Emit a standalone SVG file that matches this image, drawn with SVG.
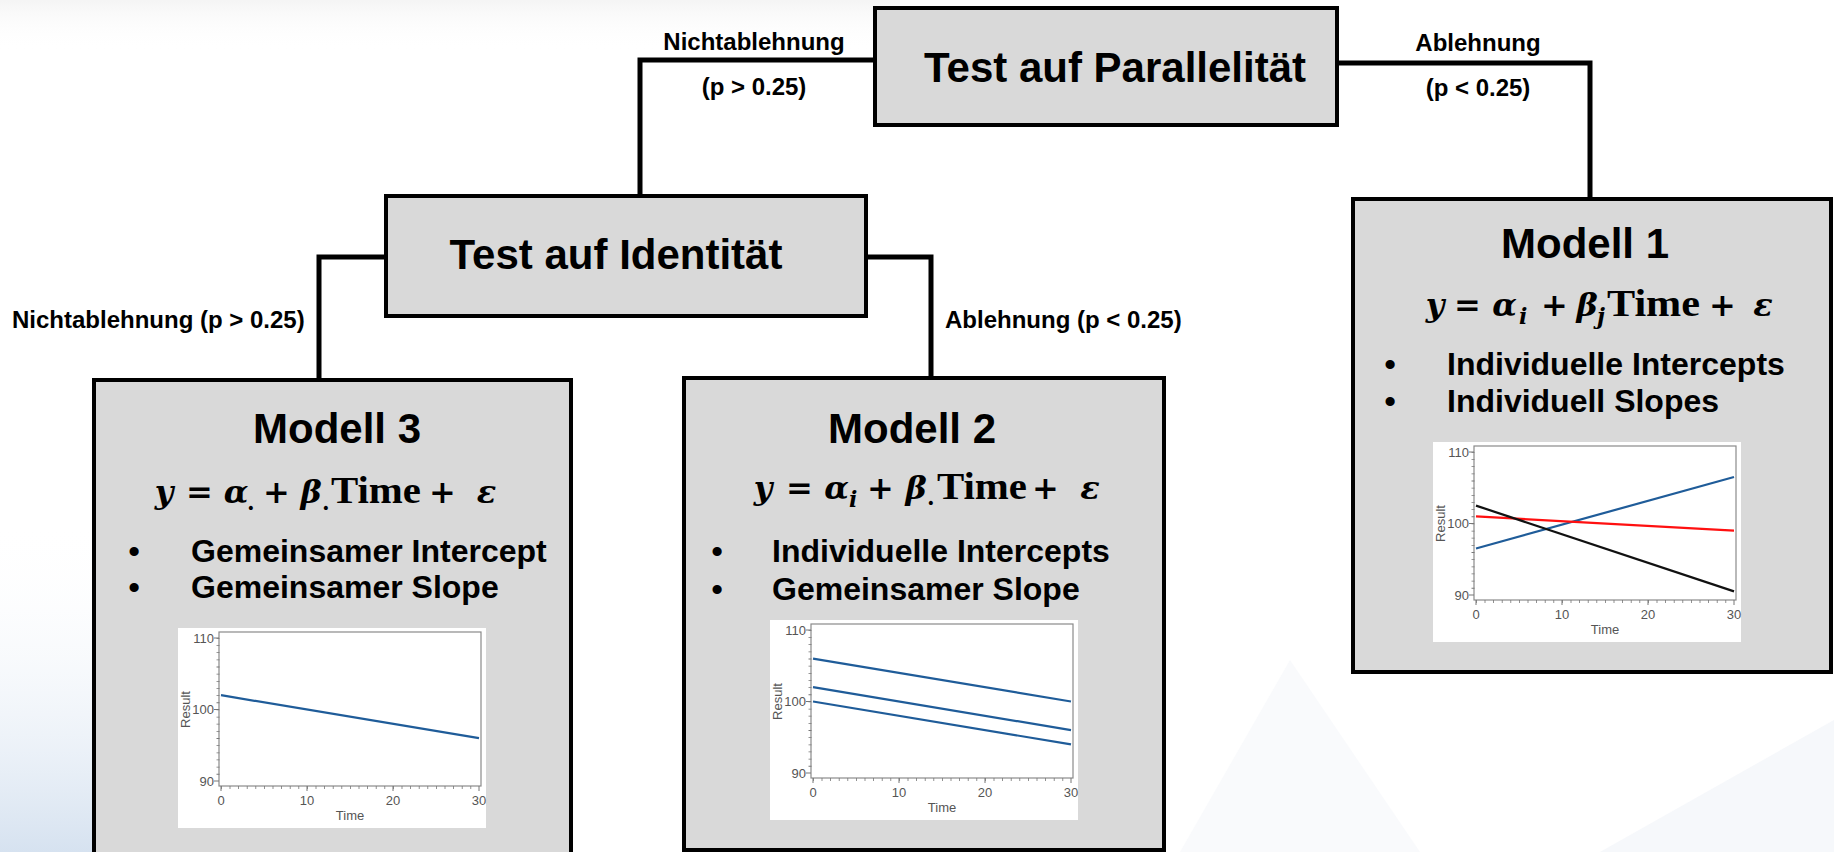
<svg xmlns="http://www.w3.org/2000/svg" xmlns:xlink="http://www.w3.org/1999/xlink" width="1834" height="852" viewBox="0 0 1834 852">
<style>
.box{fill:#d9d9d9;stroke:#000;stroke-width:4}
.conn{fill:none;stroke:#000;stroke-width:5;stroke-linejoin:miter}
.head{font-family:"Liberation Sans",Arial,sans-serif;font-weight:bold;font-size:42px;fill:#000}
.lbl{font-family:"Liberation Sans",Arial,sans-serif;font-weight:bold;font-size:24px;fill:#000}
.bul{font-family:"Liberation Sans",Arial,sans-serif;font-weight:bold;font-size:32px;fill:#000}
.m{font-family:"DejaVu Serif","Liberation Serif",serif;font-weight:bold;font-size:32px;fill:#000}
.tm{font-family:"Liberation Serif","Times New Roman",serif;font-size:37px}
.mi{font-style:italic}
.sub{font-size:22px}
.ax{font-family:"Liberation Sans",Arial,sans-serif;font-size:13px;fill:#555}
.frame{fill:none;stroke:#8a8a8a;stroke-width:1.2}
.tick{fill:none;stroke:#777;stroke-width:1}
.blue{fill:none;stroke:#1f5c99;stroke-width:2.2}
.red{fill:none;stroke:#ff1010;stroke-width:2.2}
.blk{fill:none;stroke:#111;stroke-width:2.2}
</style>
<defs>
<linearGradient id="bgl" x1="0" y1="0" x2="0" y2="1">
<stop offset="0" stop-color="#ffffff" stop-opacity="0"/>
<stop offset="1" stop-color="#d6e2f0"/>
</linearGradient>
<linearGradient id="bgt" x1="0" y1="0" x2="0" y2="1">
<stop offset="0" stop-color="#eeeeee"/>
<stop offset="1" stop-color="#ffffff" stop-opacity="0"/>
</linearGradient>
<g id="chartBase">
<rect x="0" y="0" width="308" height="200" fill="#fff"/>
<rect class="frame" x="41" y="4" width="262" height="154"/>
<path class="tick" d="M36,10h5M36,81.5h5M36,153h5M43,158v5M129,158v5M215,158v5M301,158v5"/>
<line x1="40" y1="10" x2="40" y2="153" stroke="#777" stroke-width="3" stroke-dasharray="0.8 6.35"/>
<line x1="43" y1="159.5" x2="301" y2="159.5" stroke="#777" stroke-width="3" stroke-dasharray="0.8 7.8"/>
<text class="ax" x="36" y="14.5" text-anchor="end">110</text>
<text class="ax" x="36" y="86" text-anchor="end">100</text>
<text class="ax" x="36" y="157.5" text-anchor="end">90</text>
<text class="ax" x="43" y="177" text-anchor="middle">0</text>
<text class="ax" x="129" y="177" text-anchor="middle">10</text>
<text class="ax" x="215" y="177" text-anchor="middle">20</text>
<text class="ax" x="301" y="177" text-anchor="middle">30</text>
<text class="ax" x="172" y="192" text-anchor="middle">Time</text>
<text class="ax" transform="translate(12,81.5) rotate(-90)" text-anchor="middle">Result</text>
</g>
</defs>

<g id="background">
<rect width="1834" height="852" fill="#fff"/>
<rect x="0" y="0" width="900" height="50" fill="url(#bgt)" opacity="0.6"/>
<rect x="0" y="520" width="110" height="332" fill="url(#bgl)"/>
<polygon points="1180,852 1290,660 1420,852" fill="#f3f6fa" opacity="0.5"/>
<polygon points="1600,852 1834,720 1834,852" fill="#eef2f8" opacity="0.5"/>
</g>

<g id="connectors">
<path class="conn" d="M875,60 H640 V196"/>
<path class="conn" d="M1337,63 H1590 V199"/>
<path class="conn" d="M386,257 H319 V380"/>
<path class="conn" d="M866,257 H931 V378"/>
<text class="lbl" x="754" y="50" text-anchor="middle">Nichtablehnung</text>
<text class="lbl" x="754" y="95" text-anchor="middle">(p &gt; 0.25)</text>
<text class="lbl" x="1478" y="51" text-anchor="middle">Ablehnung</text>
<text class="lbl" x="1478" y="96" text-anchor="middle">(p &lt; 0.25)</text>
<text class="lbl" x="12" y="328">Nichtablehnung (p &gt; 0.25)</text>
<text class="lbl" x="945" y="328">Ablehnung (p &lt; 0.25)</text>
</g>

<g id="test-parallel">
<rect class="box" x="875" y="8" width="462" height="117"/>
<text class="head" x="1115" y="82" text-anchor="middle">Test auf Parallelität</text>
</g>

<g id="test-identity">
<rect class="box" x="386" y="196" width="480" height="120"/>
<text class="head" x="616" y="269" text-anchor="middle">Test auf Identität</text>
</g>

<g id="modell1">
<rect class="box" x="1353" y="199" width="478" height="473"/>
<text class="head" x="1585" y="258" text-anchor="middle">Modell 1</text>
<g class="m">
<text class="mi" x="1435" y="316" text-anchor="middle">y</text>
<text x="1467.5" y="316" text-anchor="middle">=</text>
<text class="mi" x="1504.5" y="316" text-anchor="middle">α</text>
<text class="mi sub" x="1519" y="324">i</text>
<text x="1554.5" y="316" text-anchor="middle">+</text>
<text class="mi" x="1587" y="316" text-anchor="middle">β</text>
<text class="mi sub" x="1597" y="324">j</text>
<text class="tm" x="1607" y="316" textLength="93" lengthAdjust="spacingAndGlyphs">Time</text>
<text x="1722.5" y="316" text-anchor="middle">+</text>
<text class="mi" x="1763" y="316" text-anchor="middle">ε</text>
</g>
<text class="bul" x="1390" y="375" text-anchor="middle">•</text>
<text class="bul" x="1447" y="375">Individuelle Intercepts</text>
<text class="bul" x="1390" y="412" text-anchor="middle">•</text>
<text class="bul" x="1447" y="412">Individuell Slopes</text>
<g transform="translate(1433,442)">
<use xlink:href="#chartBase"/>
<line class="blue" x1="43" y1="106.5" x2="301" y2="35"/>
<line class="red" x1="43" y1="74.4" x2="301" y2="88.7"/>
<line class="blk" x1="43" y1="63.6" x2="301" y2="149.4"/>
</g>
</g>

<g id="modell2">
<rect class="box" x="684" y="378" width="480" height="472"/>
<text class="head" x="912" y="443" text-anchor="middle">Modell 2</text>
<g class="m">
<text class="mi" x="763" y="499" text-anchor="middle">y</text>
<text x="799.5" y="499" text-anchor="middle">=</text>
<text class="mi" x="836.5" y="499" text-anchor="middle">α</text>
<text class="mi sub" x="849" y="507">i</text>
<text x="880.5" y="499" text-anchor="middle">+</text>
<text class="mi" x="916" y="499" text-anchor="middle">β</text>
<text class="sub" x="927" y="505">.</text>
<text class="tm" x="937" y="499" textLength="90" lengthAdjust="spacingAndGlyphs">Time</text>
<text x="1045.5" y="499" text-anchor="middle">+</text>
<text class="mi" x="1090" y="499" text-anchor="middle">ε</text>
</g>
<text class="bul" x="717" y="562" text-anchor="middle">•</text>
<text class="bul" x="772" y="562">Individuelle Intercepts</text>
<text class="bul" x="717" y="600" text-anchor="middle">•</text>
<text class="bul" x="772" y="600">Gemeinsamer Slope</text>
<g transform="translate(770,620)">
<use xlink:href="#chartBase"/>
<line class="blue" x1="43" y1="38.6" x2="301" y2="81.5"/>
<line class="blue" x1="43" y1="67.2" x2="301" y2="110.1"/>
<line class="blue" x1="43" y1="81.5" x2="301" y2="124.4"/>
</g>
</g>

<g id="modell3">
<rect class="box" x="94" y="380" width="477" height="500"/>
<text class="head" x="337" y="443" text-anchor="middle">Modell 3</text>
<g class="m">
<text class="mi" x="164" y="503" text-anchor="middle">y</text>
<text x="199.5" y="503" text-anchor="middle">=</text>
<text class="mi" x="236" y="503" text-anchor="middle">α</text>
<text class="sub" x="247" y="510">.</text>
<text x="276.5" y="503" text-anchor="middle">+</text>
<text class="mi" x="311" y="503" text-anchor="middle">β</text>
<text class="sub" x="322" y="510">.</text>
<text class="tm" x="331" y="503" textLength="90" lengthAdjust="spacingAndGlyphs">Time</text>
<text x="442.5" y="503" text-anchor="middle">+</text>
<text class="mi" x="486.5" y="503" text-anchor="middle">ε</text>
</g>
<text class="bul" x="134" y="562" text-anchor="middle">•</text>
<text class="bul" x="191" y="562">Gemeinsamer Intercept</text>
<text class="bul" x="134" y="598" text-anchor="middle">•</text>
<text class="bul" x="191" y="598">Gemeinsamer Slope</text>
<g transform="translate(178,628)">
<use xlink:href="#chartBase"/>
<line class="blue" x1="43" y1="67.2" x2="301" y2="110.1"/>
</g>
</g>
</svg>
